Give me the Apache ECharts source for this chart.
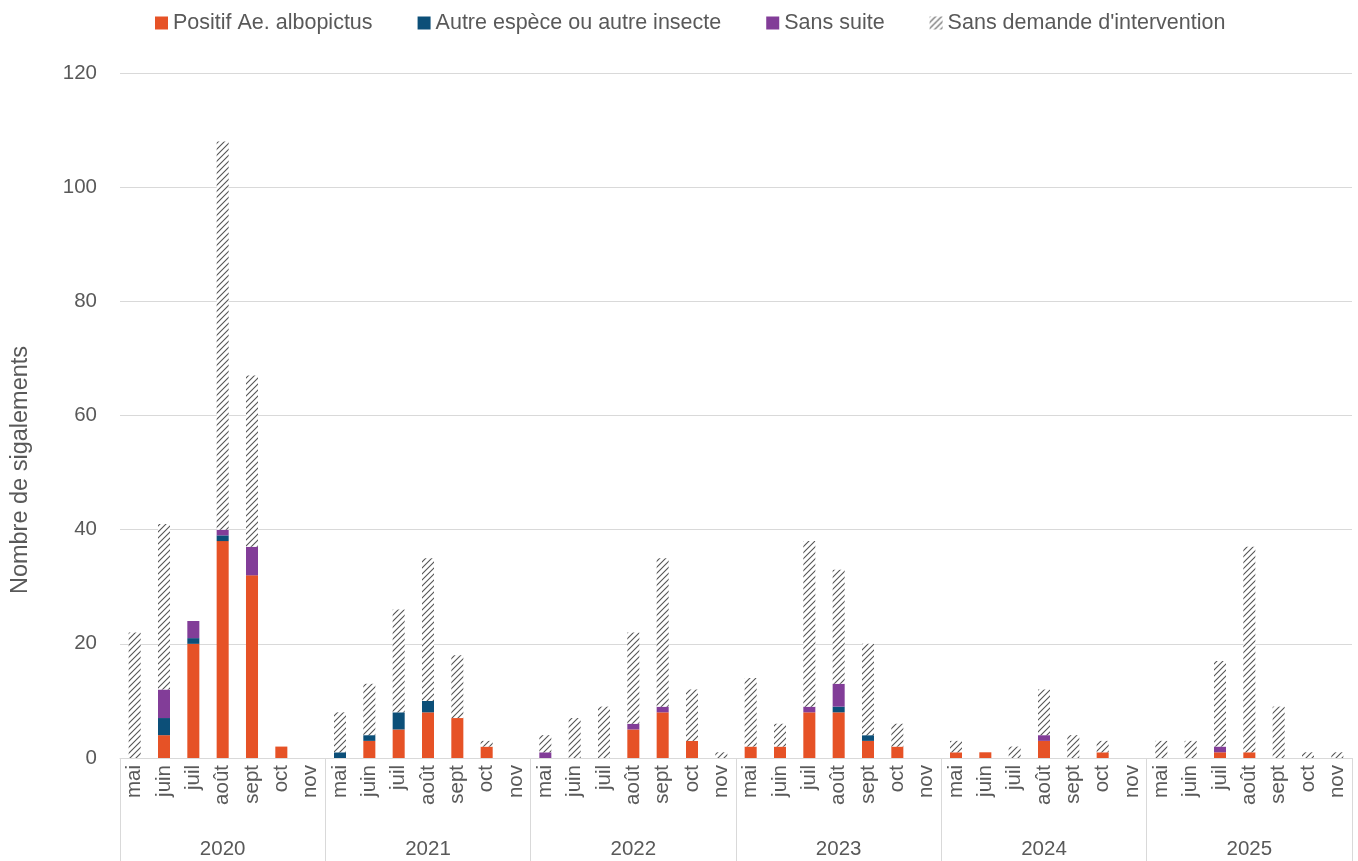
<!DOCTYPE html>
<html>
<head>
<meta charset="utf-8">
<script src="https://cdn.jsdelivr.net/npm/echarts@6/dist/echarts.min.js"></script>
<style>
html,body{margin:0;padding:0;background:#fff;}
#chart{width:1358px;height:861px;}
</style>
</head>
<body>
<div id="chart"></div>
<script>
const months = ['mai','juin','juil','août','sept','oct','nov'];
const years = ['2020','2021','2022','2023','2024','2025'];
const yTicks = [0,20,40,60,80,100,120];

const positif     = [0,4,20,38,32,2,0,  0,3,5,8,7,2,0,  0,0,0,5,8,3,0,  2,2,8,8,3,2,0,  1,1,0,3,0,1,0,  0,0,1,1,0,0,0];
const autre       = [0,3,1,1,0,0,0,     1,1,3,2,0,0,0,  0,0,0,0,0,0,0,  0,0,0,1,1,0,0,  0,0,0,0,0,0,0,  0,0,0,0,0,0,0];
const sansSuite   = [0,5,3,1,5,0,0,     0,0,0,0,0,0,0,  1,0,0,1,1,0,0,  0,0,1,4,0,0,0,  0,0,0,1,0,0,0,  0,0,1,0,0,0,0];
const sansDemande = [22,29,0,68,30,0,0, 7,9,18,25,11,1,0, 3,7,9,16,26,9,1, 12,4,29,20,16,4,0, 2,0,2,8,4,2,0, 3,3,15,36,9,1,1];

const seriesNames = ['Positif Ae. albopictus','Autre espèce ou autre insecte','Sans suite',"Sans demande d'intervention"];

const categories = [];
years.forEach(y => months.forEach(m => categories.push(m + ' ' + y)));

// hatch pattern
const tile = document.createElement('canvas');
tile.width = 6; tile.height = 6;
const ctx = tile.getContext('2d');
ctx.fillStyle = '#ffffff';
ctx.fillRect(0,0,6,6);
ctx.strokeStyle = '#555555';
ctx.lineWidth = 1.1;
ctx.beginPath();
ctx.moveTo(-1,7); ctx.lineTo(7,-1);
ctx.moveTo(-4,4); ctx.lineTo(4,-4);
ctx.moveTo(2,10); ctx.lineTo(10,2);
ctx.stroke();
const hatch = {image: tile, repeat: 'repeat'};

const FONT = '"Liberation Sans", Arial, sans-serif';
const TXT = '#595959';
const GRID = '#d9d9d9';

const chart = echarts.init(document.getElementById('chart'));
const mk = (name, data, color) => ({
  name, type: 'bar', stack: 'total', data, barWidth: '41%',
  itemStyle: {color}, xAxisIndex: 0, yAxisIndex: 0
});
chart.setOption({
  animation: false,
  textStyle: {fontFamily: FONT},
  legend: {
    top: 7, left: 150, itemWidth: 13, itemHeight: 13, itemGap: 45, icon: 'rect',
    textStyle: {fontSize: 21.5, color: TXT, fontFamily: FONT},
    selectedMode: false,
    data: seriesNames
  },
  grid: {left: 120, right: 6, top: 73, bottom: 103, containLabel: false},
  xAxis: [
    {
      type: 'category', data: categories, boundaryGap: true,
      axisLine: {show: true, lineStyle: {color: GRID, width: 1}},
      axisTick: {show: false},
      axisLabel: {interval: 0, rotate: 90, fontSize: 20.5, color: TXT, margin: 7,
                  formatter: v => v.split(' ')[0]},
      splitLine: {show: false}
    },
    {
      type: 'category', data: years, position: 'bottom', boundaryGap: true,
      axisLine: {show: false},
      axisTick: {show: true, length: 103, interval: 0, lineStyle: {color: GRID, width: 1}},
      axisLabel: {interval: 0, fontSize: 20.5, color: TXT, margin: 81},
      splitLine: {show: false}
    }
  ],
  yAxis: {
    type: 'value', min: yTicks[0], max: yTicks[yTicks.length-1], interval: 20,
    axisLine: {show: false}, axisTick: {show: false},
    axisLabel: {fontSize: 20.5, color: TXT, margin: 23},
    splitLine: {lineStyle: {color: GRID, width: 1}}
  },
  graphic: [{
    type: 'text', x: 21, y: 470, rotation: Math.PI/2,
    style: {text: 'Nombre de sigalements', fontSize: 23.5, fill: TXT, fontFamily: FONT,
            align: 'center', verticalAlign: 'middle'}
  }],
  series: [
    mk(seriesNames[0], positif, '#E65226'),
    mk(seriesNames[1], autre, '#0C4F78'),
    mk(seriesNames[2], sansSuite, '#823D98'),
    mk(seriesNames[3], sansDemande, hatch)
  ]
});
</script>
</body>
</html>
